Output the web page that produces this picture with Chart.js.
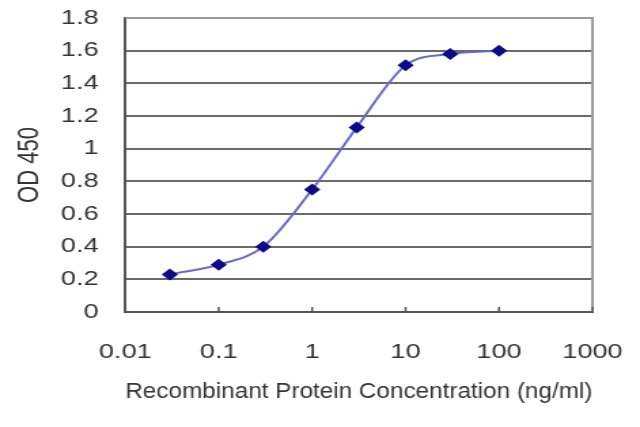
<!DOCTYPE html>
<html lang="en">
<head>
  <meta charset="UTF-8">
  <title>OD 450 standard curve</title>
  <script src="https://cdn.jsdelivr.net/npm/chart.js"></script>
  <style>
    html, body {
      margin: 0;
      padding: 0;
      background: #fff;
      overflow: hidden;
    }
    /* the original picture is stretched sideways, so draw narrow and widen */
    #wrap {
      width: 471px;
      height: 427px;
      transform: scaleX(1.3588);
      transform-origin: 0 0;
    }
  </style>
</head>
<body>
  <div id="wrap">
    <canvas id="grafico" width="471" height="427"></canvas>
  </div>

  <script>
    // data
    const concentrations = [0.03, 0.1, 0.3, 1, 3, 10, 30, 100];
    const od450 = [0.23, 0.29, 0.40, 0.75, 1.13, 1.51, 1.58, 1.60];

    const xTickValues = [0.01, 0.1, 1, 10, 100, 1000];
    const xTickLabels = ["0.01", "0.1", "1", "10", "100", "1000"];
    const yTickValues = [0, 0.2, 0.4, 0.6, 0.8, 1, 1.2, 1.4, 1.6, 1.8];
    const yTickLabels = ["0", "0.2", "0.4", "0.6", "0.8", "1", "1.2", "1.4", "1.6", "1.8"];

    const points = concentrations.map((c, i) => ({ x: c, y: od450[i] }));

    // top/right frame and little upward tick marks on the x axis
    const frame = {
      id: "frame",
      afterDraw(chart) {
        const { ctx, chartArea: a } = chart;
        const xs = chart.scales.x;
        ctx.save();
        ctx.strokeStyle = "#9a9a9a";
        ctx.lineWidth = 2;
        ctx.beginPath();
        ctx.moveTo(a.left, a.top);
        ctx.lineTo(a.right, a.top);
        ctx.lineTo(a.right, a.bottom);
        ctx.stroke();
        ctx.strokeStyle = "#555";
        ctx.lineWidth = 1.5;
        xTickValues.forEach(v => {
          const px = xs.getPixelForValue(v);
          ctx.beginPath();
          ctx.moveTo(px, a.bottom);
          ctx.lineTo(px, a.bottom - 5);
          ctx.stroke();
        });
        ctx.restore();
      }
    };

    const tickFont = { family: "'Liberation Sans', Arial, sans-serif", size: 20 };
    const titleFont = { family: "'Liberation Sans', Arial, sans-serif", size: 22 };

    new Chart(document.getElementById("grafico"), {
      type: "scatter",
      data: {
        datasets: [{
          data: points,
          showLine: true,
          cubicInterpolationMode: "monotone",
          borderColor: "#6a6ac4",
          borderWidth: 2,
          pointStyle: "rectRot",
          pointRadius: 6,
          pointHoverRadius: 6,
          pointBackgroundColor: "#0a0a8a",
          pointBorderColor: "#0a0a8a",
          pointBorderWidth: 0
        }]
      },
      options: {
        responsive: false,
        animation: false,
        events: [],
        layout: {
          padding: { top: 18, right: 35, bottom: 16, left: 4.5 }
        },
        plugins: {
          legend: { display: false },
          tooltip: { enabled: false }
        },
        scales: {
          x: {
            type: "logarithmic",
            min: 0.01,
            max: 1000,
            afterBuildTicks: scale => {
              scale.ticks = xTickValues.map(v => ({ value: v, major: true }));
            },
            ticks: {
              font: tickFont,
              color: "#333",
              padding: 12,
              maxRotation: 0,
              autoSkip: false,
              callback: (v, i) => xTickLabels[i]
            },
            // invisible tick space keeps the labels away from the axis
            grid: {
              drawOnChartArea: false,
              drawTicks: true,
              tickLength: 16,
              tickColor: "rgba(0,0,0,0)"
            },
            border: { display: true, color: "#555", width: 2 },
            title: {
              display: true,
              text: "Recombinant Protein Concentration (ng/ml)",
              font: titleFont,
              color: "#333",
              padding: { top: 2.6, bottom: 6 }
            }
          },
          y: {
            min: 0,
            max: 1.8,
            afterBuildTicks: scale => {
              scale.ticks = yTickValues.map(v => ({ value: v }));
            },
            ticks: {
              font: tickFont,
              color: "#333",
              padding: 6,
              callback: (v, i) => yTickLabels[i]
            },
            grid: {
              color: "#6a6a6a",
              lineWidth: 2,
              drawTicks: true,
              tickLength: 13.6,
              tickColor: "rgba(0,0,0,0)"
            },
            border: { display: true, color: "#555", width: 2 },
            title: {
              display: true,
              text: "OD 450",
              font: titleFont,
              color: "#333",
              padding: { top: 4, bottom: 3.9 }
            }
          }
        }
      },
      plugins: [frame]
    });
  </script>
</body>
</html>
